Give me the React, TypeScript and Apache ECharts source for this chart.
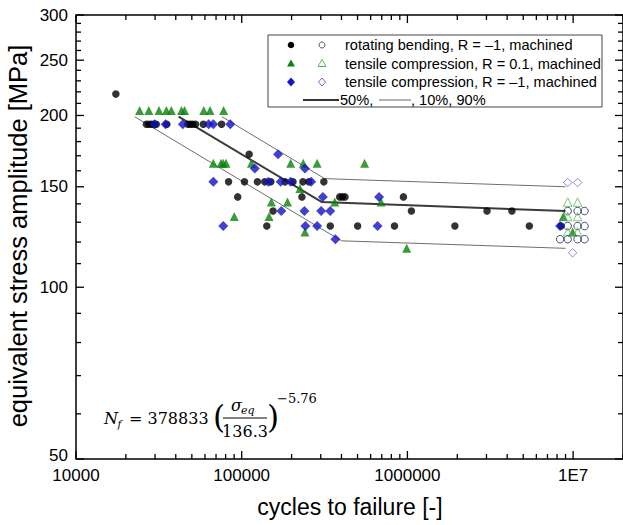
import React, { useEffect, useRef } from "react";
import * as echarts from "echarts";

// ---- axis ranges ----
const X_MIN = 1e4;
const X_MAX = 2e7;
const Y_MIN = 50;
const Y_MAX = 300;

// ---- ticks ----
const xMajorTicks = [1e4, 1e5, 1e6, 1e7];
const xTickLabels = ["10000", "100000", "1000000", "1E7"];
const xMinorTicks = [
  2e4, 3e4, 4e4, 5e4, 6e4, 7e4, 8e4, 9e4,
  2e5, 3e5, 4e5, 5e5, 6e5, 7e5, 8e5, 9e5,
  2e6, 3e6, 4e6, 5e6, 6e6, 7e6, 8e6, 9e6,
  2e7,
];
const yMajorTicks = [50, 100, 150, 200, 250, 300];
const yTickLabels = ["50", "100", "150", "200", "250", "300"];
const yMinorTicks = [
  60, 70, 80, 90, 110, 120, 130, 140, 160, 170, 180, 190,
  210, 220, 230, 240, 260, 270, 280, 290,
];

// ---- data: [cycles to failure, equivalent stress amplitude] ----
const rotatingBending: number[][] = [
  [17400, 218],
  [26600, 193], [27600, 193], [28600, 193], [29700, 193], [30500, 193], [35300, 193],
  [47300, 193], [49000, 193], [50600, 193], [52600, 193], [58700, 193], [75600, 193],
  [110900, 171],
  [83300, 153], [103900, 153], [124400, 153], [137800, 153], [149800, 153], [182500, 153],
  [203900, 153], [234100, 153], [254300, 153], [313100, 153],
  [94600, 144], [230900, 144], [390000, 144], [405000, 144], [420000, 144], [946000, 144],
  [154600, 136], [1057000, 136], [3023000, 136], [4272000, 136],
  [141700, 128], [342400, 128], [500700, 128], [835500, 128], [1934000, 128], [5441000, 128], [8446000, 128],
];

const tensileR01: number[][] = [
  [24200, 204], [27500, 204], [31700, 204], [35100, 204], [37600, 204], [43300, 204],
  [45200, 204], [59000, 204], [64400, 204], [77800, 204],
  [67400, 165], [75000, 165], [77400, 165], [80400, 165], [114500, 165], [197500, 165],
  [235100, 165], [285300, 165], [551600, 165],
  [224600, 149],
  [151000, 141], [188900, 141], [364400, 141], [693200, 141],
  [90200, 133], [146300, 133], [8730000, 133],
  [240700, 125], [9930000, 125],
  [990400, 117],
];

const tensileRm1: number[][] = [
  [29800, 193], [34700, 193], [44100, 193], [63200, 193], [67400, 193], [85300, 193],
  [165700, 171],
  [120000, 161.5], [240700, 161.5],
  [67400, 153], [144900, 153], [171900, 153], [197500, 153], [262600, 153],
  [308800, 144], [674300, 144],
  [173400, 136], [239000, 136], [301600, 136], [342400, 136],
  [77400, 128], [242300, 128], [285300, 128], [660400, 128], [8350000, 128],
  [367900, 121.4],
];

// run-outs (open symbols)
const runoutRotating: number[][] = [
  [9270000, 136], [10640000, 136], [11720000, 136],
  [9270000, 128], [10640000, 128], [11720000, 128],
  [8350000, 121.4], [9270000, 121.4], [10640000, 121.4], [11720000, 121.4],
];
const runoutR01: number[][] = [
  [9270000, 141], [10640000, 141],
  [9270000, 133], [10640000, 133],
  [9270000, 125], [10640000, 125],
];
const runoutRm1: number[][] = [
  [9270000, 152.6], [10640000, 152.6],
  [9930000, 114.9],
];

// S-N curves
const curve50: number[][] = [[41600, 199], [305000, 141], [9000000, 136]];
const curveUpper: number[][] = [[76000, 199], [317000, 155], [9000000, 150]];
const curveLower: number[][] = [[22600, 199], [400000, 120.6], [9000000, 117]];

const SANS = "'Liberation Sans', Arial, sans-serif";
const SERIF = "'DejaVu Serif', serif";

function txt(x: number, y: number, text: string, o: any = {}) {
  const align = o.align || "left";
  const valign = o.valign || "middle";
  return {
    type: "text",
    x,
    y,
    rotation: o.rotation || 0,
    silent: true,
    z: 100,
    style: {
      text,
      fill: o.fill || "#000",
      fontFamily: o.fontFamily || SANS,
      fontSize: o.fontSize || 15,
      fontStyle: o.fontStyle || "normal",
      align,
      verticalAlign: valign,
      textAlign: align,
      textVerticalAlign: valign,
    },
  };
}

export default function App() {
  const ref = useRef<HTMLDivElement>(null);

  useEffect(() => {
    if (!ref.current) return;
    const chart = echarts.init(ref.current, undefined, { renderer: "svg" });

    const xTickData = [
      ...xMajorTicks.map((v, i) => [v, Y_MIN, 1, i]),
      ...xMinorTicks.map((v) => [v, Y_MIN, 0, -1]),
    ];
    const yTickData = [
      ...yMajorTicks.map((v, i) => [X_MIN, v, 1, i]),
      ...yMinorTicks.map((v) => [X_MIN, v, 0, -1]),
    ];

    const tickStroke = { stroke: "#000", lineWidth: 1.3 };

    const legendX = 268;
    const legendY = 35;
    const rowY = [45, 63.5, 82, 100];
    const c1 = 291;
    const c2 = 322;
    const tx = 345;
    const lf = 14.6;

    const graphic: any[] = [
      // axis titles
      txt(18, 236, "equivalent stress amplitude [MPa]", {
        fontSize: 25.5,
        align: "center",
        rotation: Math.PI / 2,
      }),
      txt(350, 507, "cycles to failure [-]", { fontSize: 23, align: "center" }),
      // legend box
      {
        type: "rect",
        z: 90,
        silent: true,
        shape: { x: legendX, y: legendY, width: 334, height: 72 },
        style: { fill: "#fff", stroke: "#444", lineWidth: 1 },
      },
      { type: "circle", z: 95, shape: { cx: c1, cy: rowY[0], r: 3.3 }, style: { fill: "#000" } },
      { type: "circle", z: 95, shape: { cx: c2, cy: rowY[0], r: 3 }, style: { fill: "none", stroke: "#555", lineWidth: 1 } },
      {
        type: "polygon", z: 95,
        shape: { points: [[c1, rowY[1] - 4], [c1 + 4, rowY[1] + 3], [c1 - 4, rowY[1] + 3]] },
        style: { fill: "#0b860b" },
      },
      {
        type: "polygon", z: 95,
        shape: { points: [[c2, rowY[1] - 4], [c2 + 4, rowY[1] + 3], [c2 - 4, rowY[1] + 3]] },
        style: { fill: "none", stroke: "#5cb85c", lineWidth: 1 },
      },
      {
        type: "polygon", z: 95,
        shape: { points: [[c1, rowY[2] - 4.5], [c1 + 4, rowY[2]], [c1, rowY[2] + 4.5], [c1 - 4, rowY[2]]] },
        style: { fill: "#1414c8" },
      },
      {
        type: "polygon", z: 95,
        shape: { points: [[c2, rowY[2] - 4], [c2 + 3.6, rowY[2]], [c2, rowY[2] + 4], [c2 - 3.6, rowY[2]]] },
        style: { fill: "none", stroke: "#6a6ae8", lineWidth: 1 },
      },
      { type: "line", z: 95, shape: { x1: 303, y1: rowY[3], x2: 339, y2: rowY[3] }, style: { stroke: "#333", lineWidth: 2 } },
      { type: "line", z: 95, shape: { x1: 379, y1: rowY[3], x2: 411, y2: rowY[3] }, style: { stroke: "#666", lineWidth: 1 } },
      txt(tx, rowY[0], "rotating bending, R = \u20131, machined", { fontSize: lf }),
      txt(tx, rowY[1], "tensile compression, R = 0.1, machined", { fontSize: lf }),
      txt(tx, rowY[2], "tensile compression, R = \u20131, machined", { fontSize: lf }),
      txt(340, rowY[3], "50%,", { fontSize: lf }),
      txt(411, rowY[3], ", 10%, 90%", { fontSize: lf }),
      // equation
      txt(104, 418, "N", { fontFamily: SERIF, fontSize: 16, fontStyle: "italic" }),
      txt(117.5, 424, "f", { fontFamily: SERIF, fontSize: 10.5, fontStyle: "italic" }),
      txt(129, 418, "= 378833", { fontFamily: SERIF, fontSize: 16 }),
      txt(213, 417, "(", { fontFamily: SERIF, fontSize: 31 }),
      txt(231, 405, "\u03c3", { fontFamily: SERIF, fontSize: 16, fontStyle: "italic" }),
      txt(241, 410, "eq", { fontFamily: SERIF, fontSize: 11, fontStyle: "italic" }),
      {
        type: "line", z: 100,
        shape: { x1: 223, y1: 418, x2: 267, y2: 418 },
        style: { stroke: "#000", lineWidth: 1 },
      },
      txt(245, 431, "136.3", { fontFamily: SERIF, fontSize: 16, align: "center" }),
      txt(267, 417, ")", { fontFamily: SERIF, fontSize: 31 }),
      txt(277, 398, "\u22125.76", { fontFamily: SERIF, fontSize: 13 }),
    ];

    const lineSeries = (name: string, data: number[][], color: string, width: number) => ({
      name,
      type: "line",
      data,
      symbol: "none",
      z: 2,
      silent: true,
      lineStyle: { color, width },
    });

    const scatter = (name: string, data: number[][], symbol: string, size: number, itemStyle: any) => ({
      name,
      type: "scatter",
      data,
      symbol,
      symbolSize: size,
      z: 3,
      silent: true,
      itemStyle,
    });

    const option: any = {
      animation: false,
      grid: {
        left: 76,
        top: 15,
        width: 549,
        height: 444,
        show: true,
        borderColor: "#000",
        borderWidth: 1.5,
        backgroundColor: "transparent",
      },
      xAxis: {
        type: "log",
        logBase: 10,
        min: X_MIN,
        max: X_MAX,
        axisLine: { show: false },
        axisTick: { show: false },
        axisLabel: { show: false },
        splitLine: { show: false },
      },
      yAxis: {
        type: "log",
        logBase: 10,
        min: Y_MIN,
        max: Y_MAX,
        axisLine: { show: false },
        axisTick: { show: false },
        axisLabel: { show: false },
        splitLine: { show: false },
      },
      graphic,
      series: [
        lineSeries("10%", curveLower, "#6e6e6e", 1),
        lineSeries("90%", curveUpper, "#6e6e6e", 1),
        lineSeries("50%", curve50, "#3a3a3a", 2),
        scatter("rotating bending, R = \u20131, machined", rotatingBending, "circle", 7.5, { color: "#000" }),
        scatter("tensile compression, R = 0.1, machined", tensileR01, "triangle", 9, { color: "#0a820a" }),
        scatter("tensile compression, R = \u20131, machined", tensileRm1, "diamond", 10, { color: "#1212c4" }),
        scatter("run-out rotating bending", runoutRotating, "circle", 7.5, {
          color: "rgba(0,0,0,0)", borderColor: "#22225e", borderWidth: 1,
        }),
        scatter("run-out R = 0.1", runoutR01, "triangle", 8.5, {
          color: "rgba(0,0,0,0)", borderColor: "#5cb85c", borderWidth: 1,
        }),
        scatter("run-out R = \u20131", runoutRm1, "diamond", 8.5, {
          color: "rgba(0,0,0,0)", borderColor: "#6a6ae8", borderWidth: 1,
        }),
        {
          type: "custom",
          name: "xticks",
          silent: true,
          clip: false,
          z: 10,
          data: xTickData,
          encode: { x: 0, y: 1 },
          renderItem: (params: any, api: any) => {
            const v = api.value(0);
            const major = api.value(2) === 1;
            const li = api.value(3);
            const b = api.coord([v, Y_MIN]);
            const t = api.coord([v, Y_MAX]);
            const len = major ? 8 : 5;
            const children: any[] = [
              { type: "line", shape: { x1: b[0], y1: b[1], x2: b[0], y2: b[1] - len }, style: tickStroke },
              { type: "line", shape: { x1: t[0], y1: t[1], x2: t[0], y2: t[1] + len }, style: tickStroke },
            ];
            if (major && li >= 0) {
              children.push({
                type: "text",
                x: b[0],
                y: b[1] + 16,
                style: {
                  text: xTickLabels[li], fill: "#000", fontFamily: SANS, fontSize: 17,
                  align: "center", verticalAlign: "middle", textAlign: "center", textVerticalAlign: "middle",
                },
              });
            }
            return { type: "group", children };
          },
        },
        {
          type: "custom",
          name: "yticks",
          silent: true,
          clip: false,
          z: 10,
          data: yTickData,
          encode: { x: 0, y: 1 },
          renderItem: (params: any, api: any) => {
            const v = api.value(1);
            const major = api.value(2) === 1;
            const li = api.value(3);
            const l = api.coord([X_MIN, v]);
            const r = api.coord([X_MAX, v]);
            const len = major ? 8 : 5;
            const children: any[] = [
              { type: "line", shape: { x1: l[0], y1: l[1], x2: l[0] + len, y2: l[1] }, style: tickStroke },
              { type: "line", shape: { x1: r[0], y1: r[1], x2: r[0] - len, y2: r[1] }, style: tickStroke },
            ];
            if (major && li >= 0) {
              children.push({
                type: "text",
                x: l[0] - 8,
                y: li === 0 ? l[1] - 4 : l[1],
                style: {
                  text: yTickLabels[li], fill: "#000", fontFamily: SANS, fontSize: 17,
                  align: "right", verticalAlign: "middle", textAlign: "right", textVerticalAlign: "middle",
                },
              });
            }
            return { type: "group", children };
          },
        },
      ],
    };

    chart.setOption(option);
    return () => chart.dispose();
  }, []);

  return (
    <div
      ref={ref}
      style={{ position: "fixed", left: 0, top: 0, width: 623, height: 525, background: "#fff" }}
    />
  );
}
